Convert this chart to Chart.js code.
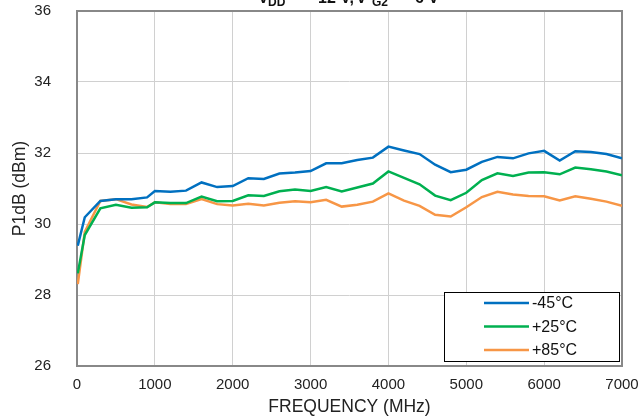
<!DOCTYPE html>
<html>
<head>
    <title>P1dB vs Frequency</title>
    <script src="https://cdn.jsdelivr.net/npm/chart.js"></script>
    <style>
        body {
            margin: 0;
            padding: 0;
            background-color: #fff;
        }

        .chart-container {
            width: 641px;
            height: 419px;
        }
    </style>
</head>
<body>
    <div class="chart-container">
        <canvas id="p1dbChart" width="641" height="419"></canvas>
    </div>

    <script>
        // Frequency points (MHz)
        const freqs = [10, 100, 300, 500, 700, 900,
            1000, 1200, 1400, 1600, 1800, 2000, 2200, 2400, 2600, 2800, 3000,
            3200, 3400, 3600, 3800, 4000, 4200, 4400, 4600, 4800, 5000,
            5200, 5400, 5600, 5800, 6000, 6200, 6400, 6600, 6800, 7000];

        // P1dB (dBm) per temperature
        const p1dbMinus45 = [29.39, 30.19, 30.65, 30.70, 30.70, 30.75,
            30.93, 30.91, 30.94, 31.17, 31.04, 31.07, 31.29, 31.27, 31.42, 31.45, 31.49,
            31.71, 31.71, 31.80, 31.87, 32.18, 32.07, 31.97, 31.67, 31.46, 31.53,
            31.75, 31.89, 31.85, 31.99, 32.06, 31.79, 32.05, 32.03, 31.97, 31.85];
        const p1dbPlus25 = [28.61, 29.69, 30.44, 30.54, 30.46, 30.47,
            30.61, 30.59, 30.59, 30.77, 30.64, 30.65, 30.81, 30.79, 30.92, 30.97, 30.93,
            31.04, 30.92, 31.03, 31.14, 31.48, 31.30, 31.12, 30.80, 30.67, 30.88,
            31.24, 31.43, 31.35, 31.45, 31.46, 31.40, 31.59, 31.54, 31.48, 31.37];
        const p1dbPlus85 = [28.31, 29.78, 30.65, 30.70, 30.55, 30.48,
            30.61, 30.56, 30.56, 30.70, 30.56, 30.52, 30.57, 30.52, 30.60, 30.64, 30.61,
            30.68, 30.49, 30.54, 30.63, 30.86, 30.66, 30.51, 30.26, 30.21, 30.47,
            30.76, 30.91, 30.83, 30.79, 30.78, 30.66, 30.78, 30.71, 30.63, 30.51];

        const seriesLabels = ['-45°C', '+25°C', '+85°C'];
        const seriesColors = ['#0070C0', '#00B050', '#F79646'];

        const toPoints = vals => vals.map((v, i) => ({ x: freqs[i], y: v }));

        // plot frame
        const framePlugin = {
            id: 'frame',
            beforeDatasetsDraw(chart) {
                const { ctx, chartArea: a } = chart;
                ctx.save();
                ctx.strokeStyle = '#888';
                ctx.lineWidth = 2;
                ctx.strokeRect(a.left, a.top, a.right - a.left, a.bottom - a.top);
                ctx.restore();
            }
        };

        // boxed legend in the lower right corner
        const legendBoxPlugin = {
            id: 'legendBox',
            afterDraw(chart) {
                const { ctx, chartArea: a } = chart;
                const w = 175, h = 69;
                const x = a.right - 3 - w, y = a.bottom - 5 - h;
                ctx.save();
                ctx.fillStyle = '#fff';
                ctx.fillRect(x, y, w, h);
                ctx.strokeStyle = '#000';
                ctx.lineWidth = 1;
                ctx.strokeRect(Math.round(x) + 0.5, Math.round(y) + 0.5, w, h);
                ctx.font = '16px "Liberation Sans", Arial, sans-serif';
                ctx.textBaseline = 'middle';
                chart.data.datasets.forEach((ds, i) => {
                    const ry = y + 11 + i * 23.5;
                    ctx.strokeStyle = ds.borderColor;
                    ctx.lineWidth = 2.5;
                    ctx.beginPath();
                    ctx.moveTo(x + 40, ry);
                    ctx.lineTo(x + 85, ry);
                    ctx.stroke();
                    ctx.fillStyle = '#111';
                    ctx.fillText(ds.label, x + 88, ry + 1);
                });
                ctx.restore();
            }
        };

        // title, mostly cut off at the top edge
        const titlePlugin = {
            id: 'cutTitle',
            afterDraw(chart) {
                const ctx = chart.ctx;
                const main = 'bold 16px "Liberation Sans", Arial, sans-serif';
                const sub = 'bold 12px "Liberation Sans", Arial, sans-serif';
                ctx.save();
                ctx.fillStyle = '#111';
                ctx.textBaseline = 'alphabetic';
                const parts = [
                    ['V', main, 258, 3], ['DD', sub, 268, 5.5],
                    ['=', main, 296, 3], ['12 V,', main, 318, 3],
                    ['V', main, 356, 3], ['G2', sub, 372, 5.5],
                    ['=', main, 396, 3], ['6 V', main, 415, 3]
                ];
                parts.forEach(([t, f, px, py]) => {
                    ctx.font = f;
                    ctx.fillText(t, px, py);
                });
                ctx.restore();
            }
        };

        new Chart(document.getElementById('p1dbChart'), {
            type: 'line',
            data: {
                datasets: [
                    { label: seriesLabels[0], data: toPoints(p1dbMinus45), borderColor: seriesColors[0] },
                    { label: seriesLabels[1], data: toPoints(p1dbPlus25), borderColor: seriesColors[1] },
                    { label: seriesLabels[2], data: toPoints(p1dbPlus85), borderColor: seriesColors[2] }
                ].map(ds => Object.assign(ds, {
                    borderWidth: 2.5,
                    pointRadius: 0,
                    tension: 0,
                    fill: false
                }))
            },
            options: {
                responsive: false,
                animation: false,
                layout: { padding: { left: 0, right: 19, top: 11, bottom: 0 } },
                plugins: {
                    legend: { display: false },
                    tooltip: { enabled: false }
                },
                scales: {
                    x: {
                        type: 'linear',
                        min: 0,
                        max: 7000,
                        afterFit(s) {
                            s.height = 53;
                            s.paddingLeft = 0;
                            s.paddingRight = 0;
                        },
                        grid: { color: '#d0d0d0', drawTicks: false },
                        border: { display: false },
                        ticks: {
                            stepSize: 1000,
                            padding: 10,
                            maxRotation: 0,
                            color: '#222',
                            callback: value => String(value),
                            font: { family: '"Liberation Sans", Arial, sans-serif', size: 15 }
                        },
                        title: {
                            display: true,
                            text: 'FREQUENCY (MHz)',
                            color: '#222',
                            padding: { top: 0, bottom: 1 },
                            font: { family: '"Liberation Sans", Arial, sans-serif', size: 17.5 }
                        }
                    },
                    y: {
                        min: 26,
                        max: 36,
                        afterFit(s) {
                            s.width = 77;
                            s.paddingTop = 0;
                            s.paddingBottom = 0;
                        },
                        grid: { color: '#d0d0d0', drawTicks: false },
                        border: { display: false },
                        ticks: {
                            stepSize: 2,
                            padding: 26,
                            color: '#222',
                            font: { family: '"Liberation Sans", Arial, sans-serif', size: 15 }
                        },
                        title: {
                            display: true,
                            text: 'P1dB (dBm)',
                            color: '#222',
                            padding: { top: 10, bottom: 0 },
                            font: { family: '"Liberation Sans", Arial, sans-serif', size: 17.5 }
                        }
                    }
                }
            },
            plugins: [framePlugin, legendBoxPlugin, titlePlugin]
        });
    </script>
</body>
</html>
